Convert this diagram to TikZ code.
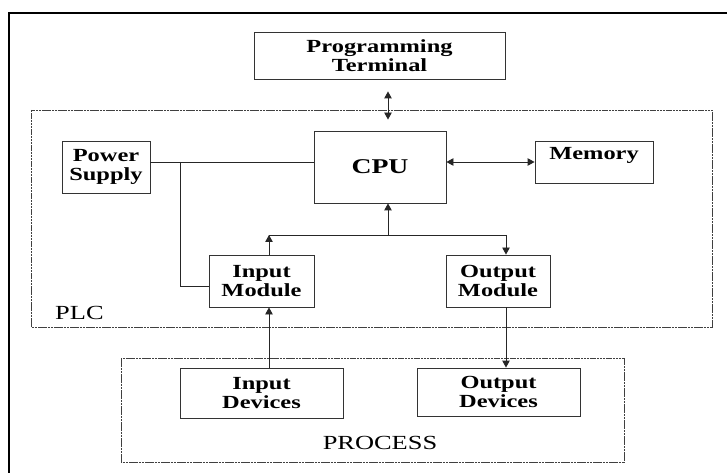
\documentclass[tikz,border=0pt]{standalone}
\usepackage{fontspec}
\setmainfont{Liberation Serif}[FakeStretch=1.32]
\usetikzlibrary{arrows.meta}
\begin{document}
\begin{tikzpicture}[x=1bp,y=-1bp,
  box/.style={draw=black!80, line width=0.9bp, inner sep=0pt, align=center,
    font=\fontsize{18.5bp}{19.5bp}\selectfont\bfseries},
  group/.style={draw=black!75, line width=0.9bp, dash pattern=on 2.5bp off 0.7bp},
  wire/.style={draw=black!85, line width=0.9bp},
  tip/.style={-{Triangle[length=7bp,width=7.5bp]}},
  dtip/.style={{Triangle[length=7bp,width=7.5bp]}-{Triangle[length=7bp,width=7.5bp]}},
  lbl/.style={inner sep=0pt, font=\fontsize{20bp}{22bp}\selectfont}
]
\useasboundingbox (0,0) rectangle (727,473);
% outer frame
\draw[line width=2.2bp] (9,476) -- (9,13) -- (730,13);
% group boxes
\draw[group] (31,110) rectangle (712,327);
\draw[group] (121,358) rectangle (624,462);
\node[lbl, anchor=base west] (plc) at (55,320) {PLC};
\node[lbl, anchor=base] (proc) at (380,449) {PROCESS};
% blocks
\node[box, minimum width=251bp, minimum height=47bp] (pt) at (379.5,55.5) {Programming\\Terminal};
\node[box, minimum width=132bp, minimum height=72bp, font=\fontsize{21bp}{23bp}\selectfont\bfseries] (cpu) at (380,167) {CPU};
\node[box, minimum width=118bp, text height=19bp, text depth=23bp, text width=118bp] (mem) at (594,162) {Memory};
\node[box, minimum width=88bp, minimum height=52bp] (ps) at (106,167) {Power\\Supply};
\node[box, minimum width=105bp, minimum height=52bp] (im) at (261.5,281) {Input\\Module};
\node[box, minimum width=104bp, minimum height=52bp] (om) at (498,281) {Output\\Module};
\node[box, minimum width=163bp, minimum height=50bp] (idev) at (261.5,393) {Input\\Devices};
\node[box, minimum width=163bp, minimum height=48bp] (odev) at (498.5,392) {Output\\Devices};
% columns and junctions
\coordinate (ax) at (388,0);
\coordinate (busL) at (269,235);
\coordinate (busM) at (388,235);
\coordinate (busR) at (506,235);
\coordinate (pj) at (180,162);
% connectors
\draw[wire, dtip, shorten <=12bp, shorten >=11bp] (pt.south -| ax) -- (cpu.north -| ax);
\draw[wire, dtip] (mem.west -| cpu.east) -- (mem.west);
\draw[wire] (ps.east |- pj) -- (cpu.west |- pj);
\draw[wire] (pj) |- ([yshift=-5bp]im.west);
\draw[wire, tip] (im.north -| busL) -- (busL);
\draw[wire] (busL) -- (busR);
\draw[wire, tip] (busM) -- (cpu.south -| busM);
\draw[wire, tip] (busR) -- (om.north -| busR);
\draw[wire, tip] (idev.north -| busL) -- (im.south -| busL);
\draw[wire, tip] (om.south -| busR) -- (odev.north -| busR);
\end{tikzpicture}
\end{document}
